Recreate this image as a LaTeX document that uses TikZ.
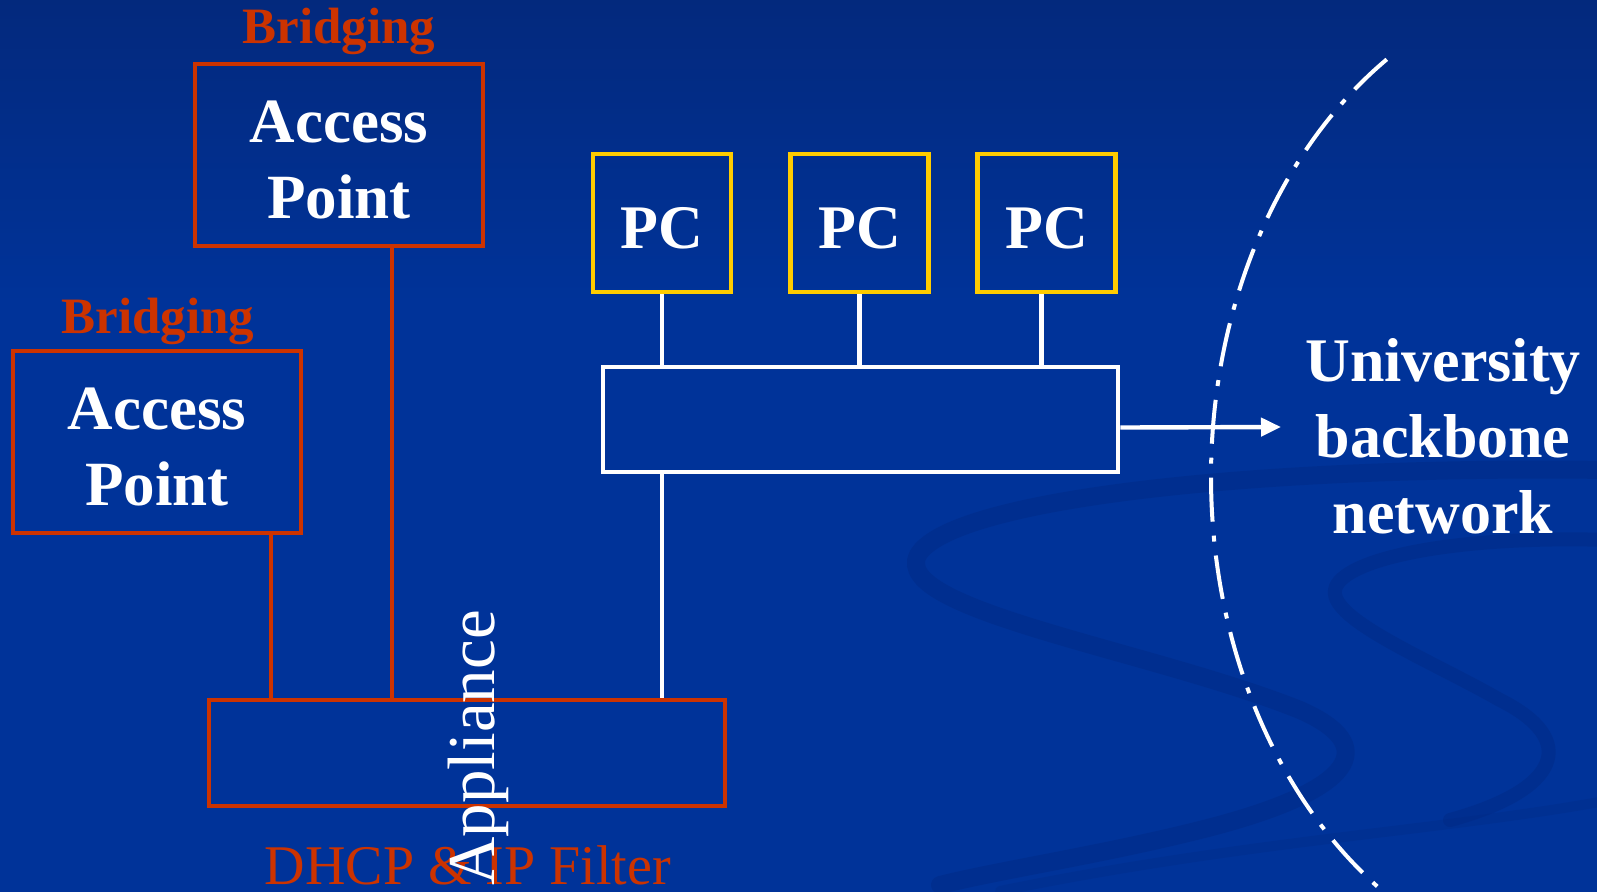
\documentclass[tikz,border=0pt]{standalone}
\usepackage{fontspec}
\setmainfont{Liberation Serif}
\usetikzlibrary{arrows.meta,calc}
\definecolor{bgtop}{RGB}{8,26,84}
\definecolor{bgbot}{RGB}{0,51,153}
\definecolor{apred}{RGB}{204,51,0}
\definecolor{pcyel}{RGB}{255,204,0}
\definecolor{swirldark}{RGB}{0,40,128}
\pgfdeclareverticalshading{bgsh}{100bp}{color(0bp)=(bgbot); color(58bp)=(bgbot); color(100bp)=(bgtop)}
\newcommand{\apstrut}{\rule{0pt}{26pt}}
\tikzset{
  apbox/.style={draw=apred, line width=2.25pt, minimum width=144pt, minimum height=91pt,
    inner sep=0pt, text=white, align=center,
    font=\bfseries\fontsize{31.5}{38}\selectfont},
  pcbox/.style={draw=pcyel, line width=2.25pt, minimum width=69pt, minimum height=69pt,
    inner sep=0pt, text=white, text height=25.5pt, text depth=0pt, font=\bfseries\fontsize{31}{36}\selectfont},
  swbox/.style={draw=white, line width=2.25pt, minimum width=257.5pt, minimum height=52.5pt, inner sep=0pt},
  appbox/.style={draw=apred, line width=2.25pt, minimum width=258pt, minimum height=53pt, inner sep=0pt},
  redlbl/.style={text=apred, inner sep=0pt, font=\bfseries\fontsize{25.5}{30}\selectfont},
  redline/.style={draw=apred, line width=2.2pt},
  whiteline/.style={draw=white, line width=2.2pt},
  swirl/.style={draw=swirldark, line cap=round, opacity=0.4},
}
\begin{document}
\begin{tikzpicture}[x=0.5pt,y=-0.5pt]
\useasboundingbox (0,0) rectangle (1597,891);
\shade[shading=bgsh] (0,0) rectangle (1597,891);
% background swirls
\begin{scope}
\clip (0,0) rectangle (1597,891);
\draw[swirl, line width=9pt] (1610,470) .. controls (1250,465) and (950,500) .. (918,555)
   .. controls (890,610) and (1150,650) .. (1300,710) .. controls (1380,745) and (1360,790) .. (1200,830)
   .. controls (1100,855) and (1000,870) .. (940,885);
\draw[swirl, line width=7pt] (1610,540) .. controls (1450,535) and (1340,560) .. (1335,590)
   .. controls (1330,620) and (1430,660) .. (1500,700) .. controls (1580,740) and (1560,790) .. (1450,820);
\draw[swirl, line width=5pt, opacity=0.25] (1000,891) .. controls (1250,840) and (1450,830) .. (1610,800);
\end{scope}

% Access points
\node[redlbl, anchor=base] (br1) at (339,43) {Bridging};
\node[apbox] (ap1) at (339,155) {\apstrut Access\\Point};
\node[redlbl, anchor=base] (br2) at (158,333) {Bridging};
\node[apbox] (ap2) at (157,442) {\apstrut Access\\Point};

% Appliance
\node[appbox] (app) at (467,753) {};
\node[text=apred, anchor=base, inner sep=0pt, font=\fontsize{28}{32}\selectfont] (dhcp) at (468,884) {DHCP \& IP Filter};
\node[text=white, rotate=90, anchor=base west, inner sep=0pt, font=\fontsize{33.5}{38}\selectfont] (appl) at (494,886) {Appliance};

% PCs and switch
\node[pcbox] (pc1) at (662,223) {PC};
\node[pcbox] (pc2) at (859.5,223) {PC};
\node[pcbox] (pc3) at (1046.5,223) {PC};
\node[swbox] (sw) at (860.5,419.5) {};

% University
\node[text=white, align=center, inner sep=0pt, font=\bfseries\fontsize{31}{38}\selectfont] (uni) at (1443,436) {University\\backbone\\network};
\coordinate (arrowend) at (1281,427);

% connectors
\draw[redline] ([xshift=26.5pt]ap1.south) -- ([xshift=26.5pt]ap1.south |- app.north);
\draw[redline] ([xshift=57pt]ap2.south) -- ([xshift=57pt]ap2.south |- app.north);
\draw[whiteline] (pc1.south) -- (pc1.south |- sw.north);
\draw[whiteline] (pc2.south) -- (pc2.south |- sw.north);
\draw[whiteline] ([xshift=-2.5pt]pc3.south) -- ([xshift=-2.5pt]pc3.south |- sw.north);
\draw[whiteline] (sw.south -| pc1) -- (app.north -| pc1);
\draw[whiteline, -{Triangle[length=10pt,width=9pt]}] ([yshift=-4pt]sw.east) -- (arrowend);

% boundary arc
\draw[white, line width=2pt, dash pattern=on 22pt off 7pt on 3pt off 7pt]
  plot[domain=123:236, samples=120, smooth, variable=\t] ({1597+386*cos(\t)}, {477-498*sin(\t)});
\end{tikzpicture}
\end{document}
